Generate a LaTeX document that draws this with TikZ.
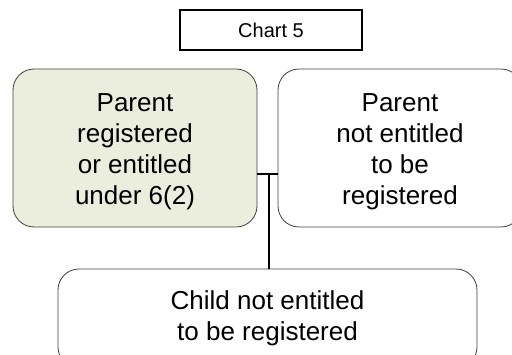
\documentclass[tikz,border=0pt]{standalone}
\usepackage{fontspec}
\setmainfont{Liberation Sans}
\definecolor{boxfill}{HTML}{EBEEDD}
\definecolor{boxline}{HTML}{404040}
\begin{document}
\begin{tikzpicture}[x=1pt,y=-1pt,
  rbox/.style={draw=boxline,line width=0.8pt,rounded corners=21pt,align=center,
    font=\fontsize{26}{31}\selectfont,inner sep=0pt},
  titlebox/.style={draw=black,line width=1.2pt,font=\fontsize{20}{24}\selectfont,
    minimum width=182pt,minimum height=40pt,inner sep=0pt},
  conn/.style={draw=black,line width=2pt}]
\useasboundingbox (0,0) rectangle (512,355);
\clip (0,0) rectangle (512,355);
\node[titlebox] (title) at (271,30) {Chart 5};
\node[rbox,fill=boxfill,minimum width=244pt,minimum height=158pt] (left) at (135,148)
  {\rule{0pt}{25pt}Parent\\registered\\or entitled\\under 6(2)};
\node[rbox,fill=white,minimum width=244pt,minimum height=158pt] (right) at (400,148)
  {\rule{0pt}{25pt}Parent\\not entitled\\to be\\registered};
\node[rbox,fill=white,minimum width=419pt,minimum height=99pt] (child) at (267.5,318.5)
  {Child not entitled\\to be registered};
\coordinate (j) at (269,174);
\draw[conn] (left.east |- j) -- (right.west |- j);
\draw[conn] (j) -- (child.north -| j);
\end{tikzpicture}
\end{document}
